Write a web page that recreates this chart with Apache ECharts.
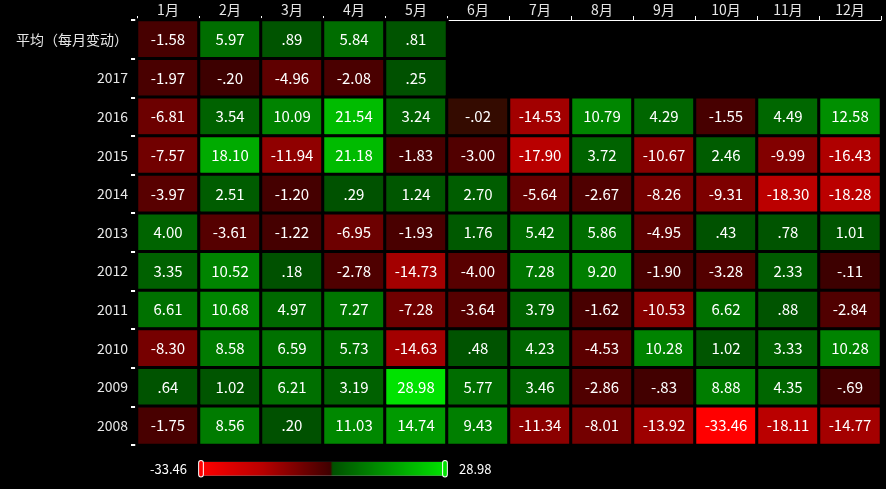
<!DOCTYPE html>
<html>
<head>
<meta charset="utf-8">
<style>
html,body{margin:0;padding:0;background:#000;}
#main{width:886px;height:489px;}
</style>
<script src="https://cdn.jsdelivr.net/npm/echarts@6/dist/echarts.min.js"></script>
</head>
<body>
<div id="main"></div>
<script>
const months = ['1月','2月','3月','4月','5月','6月','7月','8月','9月','10月','11月','12月'];
const rows = ['平均（每月变动）','2017','2016','2015','2014','2013','2012','2011','2010','2009','2008'];

const rowAvg  = [-1.58, 5.97, 0.89, 5.84, 0.81, null, null, null, null, null, null, null];
const row2017 = [-1.97, -0.20, -4.96, -2.08, 0.25, null, null, null, null, null, null, null];
const row2016 = [-6.81, 3.54, 10.09, 21.54, 3.24, -0.02, -14.53, 10.79, 4.29, -1.55, 4.49, 12.58];
const row2015 = [-7.57, 18.10, -11.94, 21.18, -1.83, -3.00, -17.90, 3.72, -10.67, 2.46, -9.99, -16.43];
const row2014 = [-3.97, 2.51, -1.20, 0.29, 1.24, 2.70, -5.64, -2.67, -8.26, -9.31, -18.30, -18.28];
const row2013 = [4.00, -3.61, -1.22, -6.95, -1.93, 1.76, 5.42, 5.86, -4.95, 0.43, 0.78, 1.01];
const row2012 = [3.35, 10.52, 0.18, -2.78, -14.73, -4.00, 7.28, 9.20, -1.90, -3.28, 2.33, -0.11];
const row2011 = [6.61, 10.68, 4.97, 7.27, -7.28, -3.64, 3.79, -1.62, -10.53, 6.62, 0.88, -2.84];
const row2010 = [-8.30, 8.58, 6.59, 5.73, -14.63, 0.48, 4.23, -4.53, 10.28, 1.02, 3.33, 10.28];
const row2009 = [0.64, 1.02, 6.21, 3.19, 28.98, 5.77, 3.46, -2.86, -0.83, 8.88, 4.35, -0.69];
const row2008 = [-1.75, 8.56, 0.20, 11.03, 14.74, 9.43, -11.34, -8.01, -13.92, -33.46, -18.11, -14.77];

const rowValues = [rowAvg, row2017, row2016, row2015, row2014, row2013, row2012, row2011, row2010, row2009, row2008];

const vMin = -33.46, vMax = 28.98;

const data = [];
rowValues.forEach((arr, r) => {
  arr.forEach((v, c) => {
    if (v !== null) data.push([c, r, v]);
  });
});

// colour ramp: bright red -> dark red at 0, dark green -> bright green
function redLevel(a) {
  if (a <= 18) return 60 + 7 * a;
  return 186 + (255 - 186) * (a - 18) / (-vMin - 18);
}
const stops = [];
const N = 300;
for (let i = 0; i < N; i++) {
  const v = vMin + (vMax - vMin) * i / (N - 1);
  if (v < 0) {
    stops.push('rgb(' + Math.round(Math.min(255, redLevel(-v))) + ',0,0)');
  } else {
    const g = Math.round(80 + (226 - 80) * v / vMax);
    stops.push('rgb(0,' + g + ',0)');
  }
}

function fmt(v) {
  return v.toFixed(2).replace(/^(-?)0\./, '$1.');
}

const FONT = '"Noto Sans CJK SC", "Noto Sans", sans-serif';
const chart = echarts.init(document.getElementById('main'));
chart.setOption({
  backgroundColor: '#000',
  animation: false,
  grid: { left: 137, right: 5, top: 20, bottom: 44 },
  xAxis: {
    type: 'category',
    position: 'top',
    data: months,
    axisLine: { lineStyle: { color: '#fff', width: 1 } },
    axisTick: { show: true, length: 4, lineStyle: { color: '#fff' } },
    axisLabel: { color: '#e6e6e6', fontSize: 14, fontFamily: FONT, margin: 3 },
    splitArea: { show: false }
  },
  yAxis: {
    type: 'category',
    inverse: true,
    data: rows,
    axisLine: { lineStyle: { color: '#fff', width: 1 } },
    axisTick: { show: true, length: 6, lineStyle: { color: '#fff', width: 2 } },
    axisLabel: { color: '#e6e6e6', fontSize: 14, fontFamily: FONT, margin: 9 },
    splitArea: { show: false }
  },
  visualMap: {
    type: 'continuous',
    min: vMin,
    max: vMax,
    calculable: true,
    orient: 'horizontal',
    left: 135,
    top: 445,
    itemWidth: 14,
    itemHeight: 244,
    text: ['28.98', '-33.46'],
    textGap: 14,
    formatter: () => '',
    textStyle: { color: '#fff', fontSize: 13, fontFamily: FONT },
    handleSize: '110%',
    handleStyle: { color: '#fff', borderColor: '#fff', borderWidth: 1 },
    indicatorSize: 0,
    inRange: { color: stops }
  },
  series: [{
    type: 'heatmap',
    data: data,
    label: {
      show: true,
      color: '#fff',
      fontSize: 15,
      fontFamily: FONT,
      formatter: p => fmt(p.value[2])
    },
    itemStyle: { borderColor: '#000', borderWidth: 3 },
    emphasis: { disabled: true }
  }]
});
</script>
</body>
</html>
